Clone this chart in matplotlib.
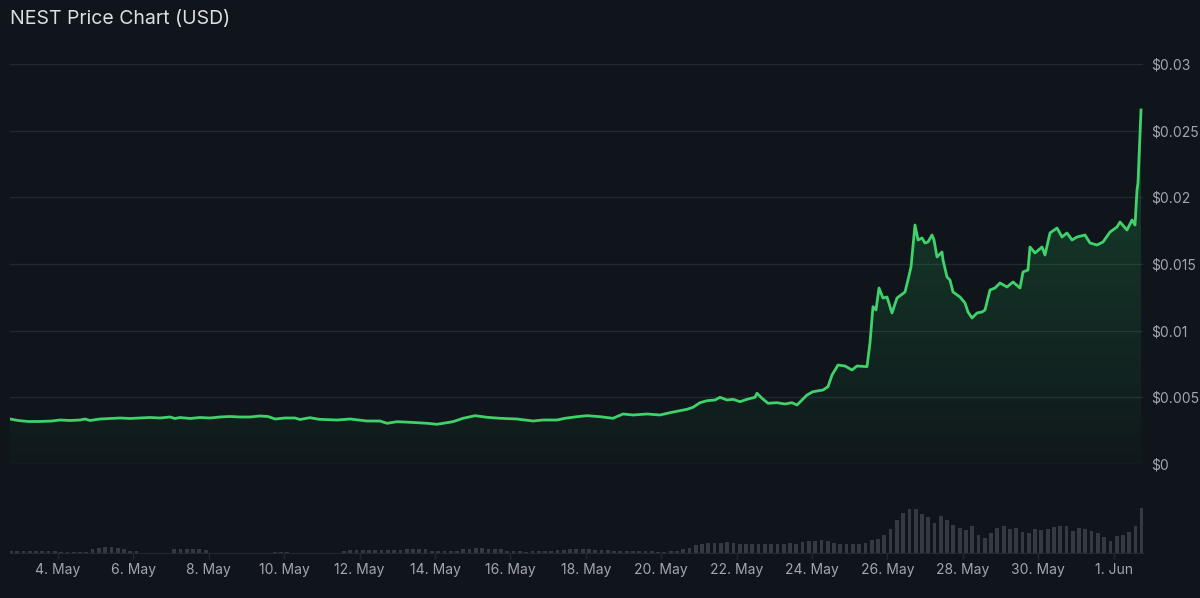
import numpy as np
import matplotlib
matplotlib.use("Agg")
import matplotlib.pyplot as plt
from matplotlib.colors import LinearSegmentedColormap
from matplotlib.patches import Polygon

# ---------------- data ----------------
title = "NEST Price Chart (USD)"

# time in days since 1 May 00:00
price_days = [
    1.727, 1.939, 2.204, 2.523, 2.841, 3.053, 3.318, 3.584, 3.716, 3.849,
    4.114, 4.379, 4.645, 4.910, 5.175, 5.440, 5.706, 5.971, 6.103, 6.236,
    6.501, 6.767, 7.032, 7.297, 7.562, 7.828, 8.093, 8.358, 8.570, 8.756,
    9.021, 9.286, 9.419, 9.684, 9.923, 10.401, 10.745, 11.196, 11.541, 11.727,
    11.992, 12.337, 12.788, 13.053, 13.212, 13.477, 13.743, 14.061, 14.379, 14.724,
    15.175, 15.599, 15.865, 16.236, 16.448, 16.767, 17.032, 17.377, 17.721, 17.987,
    18.252, 18.623, 18.968, 19.233, 19.499, 19.684, 19.844, 20.029, 20.215, 20.427,
    20.560, 20.745, 20.905, 21.090, 21.276, 21.488, 21.541, 21.674, 21.833, 22.072,
    22.284, 22.469, 22.602, 22.867, 23.027, 23.292, 23.424, 23.531, 23.690, 23.875,
    24.061, 24.194, 24.459, 24.538, 24.618, 24.698, 24.777, 24.883, 24.989, 25.122,
    25.255, 25.467, 25.546, 25.626, 25.732, 25.812, 25.918, 25.997, 26.077, 26.183,
    26.236, 26.316, 26.448, 26.475, 26.581, 26.660, 26.740, 26.926, 27.058, 27.138,
    27.244, 27.377, 27.509, 27.589, 27.721, 27.854, 27.987, 28.172, 28.332, 28.517,
    28.597, 28.729, 28.782, 28.915, 29.101, 29.180, 29.313, 29.499, 29.631, 29.764,
    29.897, 30.029, 30.241, 30.374, 30.560, 30.719, 30.905, 31.090, 31.170, 31.355,
    31.488, 31.568, 31.621, 31.647, 31.727,
]
price_usd = [
    0.003375, 0.003263, 0.003188, 0.003188, 0.003225, 0.003300, 0.003263, 0.003300, 0.003375, 0.003263,
    0.003375, 0.003413, 0.003450, 0.003413, 0.003450, 0.003488, 0.003450, 0.003525, 0.003413, 0.003488,
    0.003413, 0.003488, 0.003450, 0.003525, 0.003563, 0.003525, 0.003525, 0.003600, 0.003563, 0.003375,
    0.003450, 0.003450, 0.003338, 0.003473, 0.003353, 0.003300, 0.003375, 0.003225, 0.003225, 0.003053,
    0.003173, 0.003128, 0.003053, 0.002978, 0.003053, 0.003173, 0.003428, 0.003623, 0.003503, 0.003428,
    0.003375, 0.003225, 0.003300, 0.003300, 0.003428, 0.003548, 0.003623, 0.003548, 0.003428, 0.003750,
    0.003675, 0.003750, 0.003675, 0.003848, 0.003998, 0.004103, 0.004253, 0.004598, 0.004748, 0.004800,
    0.005003, 0.004800, 0.004853, 0.004673, 0.004853, 0.005003, 0.005303, 0.004928, 0.004553, 0.004598,
    0.004500, 0.004598, 0.004425, 0.005175, 0.005423, 0.005550, 0.005798, 0.006675, 0.007425, 0.007350,
    0.007050, 0.007350, 0.007300, 0.009075, 0.011800, 0.011550, 0.013200, 0.012450, 0.012525, 0.011325,
    0.012450, 0.012900, 0.013800, 0.014775, 0.017925, 0.016800, 0.016950, 0.016575, 0.016650, 0.017175,
    0.016800, 0.015525, 0.015900, 0.015300, 0.014025, 0.013800, 0.012900, 0.012525, 0.012075, 0.011400,
    0.010950, 0.011325, 0.011400, 0.011550, 0.013050, 0.013200, 0.013575, 0.013275, 0.013650, 0.013200,
    0.014400, 0.014550, 0.016275, 0.015825, 0.016275, 0.015675, 0.017325, 0.017700, 0.017025, 0.017325,
    0.016800, 0.017025, 0.017175, 0.016575, 0.016425, 0.016650, 0.017400, 0.017775, 0.018150, 0.017550,
    0.018300, 0.017925, 0.020550, 0.021075, 0.026550,
]

# 4-hourly volume (relative units), first bar at day 1.75
volume_start_day = 1.75
volume_step_days = 1.0 / 6.0
volume = [
    2, 2, 2, 2, 2, 2, 2, 2, 1, 1,
    1, 1, 1, 4, 5, 6, 6, 5, 4, 2,
    2, 0, 0, 0, 0, 0, 4, 4, 4, 4,
    4, 3, 0, 0, 0, 0, 0, 0, 0, 0,
    0, 0, 1, 1, 1, 0, 0, 0, 0, 0,
    0, 0, 0, 2, 3, 3, 3, 3, 3, 3,
    3, 3, 3, 4, 4, 4, 4, 2, 2, 2,
    2, 2, 4, 4, 5, 5, 4, 4, 4, 2,
    2, 2, 1, 2, 2, 2, 2, 3, 3, 4,
    4, 4, 4, 3, 3, 3, 2, 2, 2, 2,
    2, 2, 2, 1, 1, 2, 2, 4, 5, 8,
    9, 10, 10, 10, 11, 10, 9, 9, 9, 9,
    9, 9, 9, 9, 10, 9, 11, 12, 12, 13,
    12, 10, 9, 9, 9, 9, 10, 13, 14, 18,
    24, 33, 40, 44, 44, 39, 36, 30, 37, 33,
    28, 25, 23, 27, 18, 15, 20, 25, 27, 24,
    25, 21, 20, 24, 23, 24, 26, 27, 27, 22,
    25, 24, 22, 20, 16, 12, 17, 18, 21, 27,
    45,
]

tick_days = [3, 5, 7, 9, 11, 13, 15, 17, 19, 21, 23, 25, 27, 29, 31]
tick_labels = ["4. May", "6. May", "8. May", "10. May", "12. May", "14. May",
               "16. May", "18. May", "20. May", "22. May", "24. May", "26. May",
               "28. May", "30. May", "1. Jun"]

price_ticks = [0, 0.005, 0.01, 0.015, 0.02, 0.025, 0.03]
price_tick_labels = ["$0", "$0.005", "$0.01", "$0.015", "$0.02", "$0.025", "$0.03"]

# ---------------- style ----------------
BG = "#10151b"
GRID = "#242930"
TXT = "#a3a7ad"
LINE = "#3fd26b"
BAR = "#343a42"

plt.rcParams["font.family"] = ["Inter", "DejaVu Sans"]

W, H = 1200, 598
fig = plt.figure(figsize=(W / 100, H / 100), dpi=100, facecolor=BG)

x_left_px, x_right_px = 10, 1143
px_per_day = 37.7
day_at_left = 3 + (x_left_px - 58) / px_per_day
day_at_right = 3 + (x_right_px - 58) / px_per_day

def fx(px):
    return px / W

def fy(py):
    return 1 - py / H

# price axes
ax = fig.add_axes([fx(x_left_px), fy(464), fx(x_right_px - x_left_px), (464 - 64) / H])
ax.set_facecolor(BG)
for s in ax.spines.values():
    s.set_visible(False)
ax.set_yticks(price_ticks)
ax.set_yticklabels(price_tick_labels)
ax.yaxis.tick_right()
ax.tick_params(axis="y", length=0, pad=6, labelsize=10, labelcolor=TXT)
ax.set_xticks([])
ax.grid(axis="y", color=GRID, linewidth=1)
ax.set_axisbelow(True)

days = np.array(price_days)
prices = np.array(price_usd)

verts = np.vstack([[days[0], 0], np.column_stack([days, prices]), [days[-1], 0]])
poly = Polygon(verts, closed=True, facecolor="none", edgecolor="none")
ax.add_patch(poly)
cmap = LinearSegmentedColormap.from_list(
    "g", [(0.15, 0.75, 0.35, 0.02), (0.15, 0.75, 0.35, 0.28)])
grad = np.linspace(0, 1, 256).reshape(-1, 1)
im = ax.imshow(grad, extent=[day_at_left, day_at_right, 0, 0.027], origin="lower",
               aspect="auto", cmap=cmap, zorder=1, interpolation="bicubic")
im.set_clip_path(poly)
ax.set_xlim(day_at_left, day_at_right)
ax.set_ylim(0, 0.03)

ax.plot(days, prices, color=LINE, linewidth=2.0, zorder=3, solid_joinstyle="round")

# volume axes
vax = fig.add_axes([fx(x_left_px), fy(553), fx(x_right_px - x_left_px), 73 / H])
vax.set_facecolor("none")
vol = np.array(volume, dtype=float)
vdays = volume_start_day + np.arange(len(vol)) * volume_step_days
vax.bar(vdays, vol, width=volume_step_days * 0.6, color=BAR, linewidth=0)
vax.set_xlim(day_at_left, day_at_right)
vax.set_ylim(0, max(vol) * 73 / 45)
for k, s in vax.spines.items():
    s.set_visible(k == "bottom")
vax.spines["bottom"].set_color(GRID)
vax.set_yticks([])
vax.set_xticks(tick_days)
vax.set_xticklabels(tick_labels)
vax.tick_params(axis="x", length=4, width=1, color=GRID, pad=3, labelsize=10, labelcolor=TXT)

fig.text(fx(10), fy(19), title, fontsize=14, color="#dcdee1", va="center", ha="left")

fig.savefig("out.png", dpi=100, facecolor=BG)
